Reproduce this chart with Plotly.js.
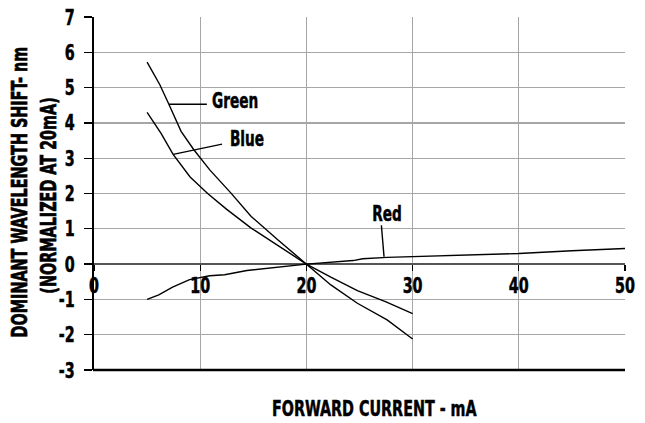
<!DOCTYPE html>
<html>
<head>
<meta charset="utf-8">
<script src="https://cdn.plot.ly/plotly-3.0.1.min.js"></script>
<style>html,body{margin:0;padding:0;background:#fff;}#chart{width:645px;height:423px;}</style>
</head>
<body>
<div id="chart"></div>
<script>
// Data
const greenX = [5, 6.2, 7.05, 8.2, 9.4, 10.9, 12.9, 14.8, 17.3, 20, 22.3, 24.8, 27.6, 30];
const greenY = [5.72, 5.08, 4.53, 3.76, 3.24, 2.67, 2.01, 1.35, 0.69, 0, -0.59, -1.11, -1.58, -2.12];
const blueX = [5, 6.3, 7.45, 9.05, 10.7, 12.5, 14.8, 17.3, 20, 22.3, 24.8, 27.5, 30];
const blueY = [4.3, 3.71, 3.11, 2.47, 2.0, 1.55, 1.02, 0.52, 0, -0.37, -0.75, -1.07, -1.4];
const redX = [5, 6.1, 7.4, 9, 10.9, 12.3, 14.4, 17.5, 20, 24.4, 25.3, 27.6, 30, 35, 40, 45, 50];
const redY = [-1.0, -0.87, -0.65, -0.44, -0.33, -0.3, -0.18, -0.07, 0, 0.1, 0.15, 0.19, 0.21, 0.27, 0.3, 0.38, 0.44];

const xTickVals = [0, 10, 20, 30, 40, 50];
const xTickText = ['0', '10', '20', '30', '40', '50'];
const yTickVals = [-3, -2, -1, 0, 1, 2, 3, 4, 5, 6, 7];
const yTickText = ['-3', '-2', '-1', '0', '1', '2', '3', '4', '5', '6', '7'];

const seriesLabels = ['Green', 'Blue', 'Red'];
const xTitle = 'FORWARD CURRENT - mA';
const yTitleLines = ['DOMINANT WAVELENGTH SHIFT- nm', '(NORMALIZED AT 20mA)'];

const FONT = '"DejaVu Sans Condensed", "Liberation Sans Narrow", "Arial Narrow", sans-serif';
const CONDENSE = 0.74;
const YTITLE_STRETCH = 1.36;

const lineStyle = {color: '#000', width: 1.4};
const traces = [
  {x: greenX, y: greenY, name: seriesLabels[0], mode: 'lines', line: lineStyle},
  {x: blueX, y: blueY, name: seriesLabels[1], mode: 'lines', line: lineStyle},
  {x: redX, y: redY, name: seriesLabels[2], mode: 'lines', line: lineStyle}
];

const leader = (x0, y0, x1, y1) => ({type: 'line', xref: 'x', yref: 'y', x0, y0, x1, y1, line: {color: '#000', width: 1.4}});
const f = (size) => ({family: FONT, size: size, weight: 'bold', color: '#000'});

const layout = {
  width: 645, height: 423,
  margin: {l: 94, r: 20, t: 17, b: 53},
  paper_bgcolor: '#fff', plot_bgcolor: '#fff',
  showlegend: false,
  font: f(21),
  xaxis: {
    range: [0, 50], tickvals: xTickVals, ticktext: xTickText,
    showgrid: true, gridcolor: '#a6a6a6', gridwidth: 1.3,
    anchor: 'free', position: 0.3,
    ticks: 'outside', ticklen: 6, tickcolor: '#000', tickwidth: 1.3,
    ticklabelstandoff: -4,
    showline: false, zeroline: false,
    tickfont: f(21.5),
    fixedrange: true
  },
  yaxis: {
    range: [-3, 7], tickvals: yTickVals, ticktext: yTickText,
    showgrid: true, gridcolor: '#a6a6a6', gridwidth: 1.3,
    zeroline: true, zerolinecolor: '#555', zerolinewidth: 1.3,
    showline: true, linecolor: '#000', linewidth: 2,
    ticks: 'outside', ticklen: 8, tickcolor: '#000', tickwidth: 1.3,
    ticklabelstandoff: 5,
    tickfont: f(21.5),
    fixedrange: true
  },
  shapes: [
    {type: 'line', xref: 'paper', yref: 'paper', x0: -0.002, x1: 1, y0: 0, y1: 0, line: {color: '#000', width: 2.5}},
    leader(7.06, 4.53, 10.63, 4.53),
    leader(7.46, 3.11, 12.06, 3.40),
    leader(27.06, 1.10, 27.31, 0.21)
  ],
  annotations: [
    {xref: 'x', yref: 'y', x: 13.31, y: 4.62, xanchor: 'center', yanchor: 'middle', showarrow: false, text: seriesLabels[0], font: f(20.5)},
    {xref: 'x', yref: 'y', x: 14.36, y: 3.53, xanchor: 'center', yanchor: 'middle', showarrow: false, text: seriesLabels[1], font: f(20.5)},
    {xref: 'x', yref: 'y', x: 27.57, y: 1.42, xanchor: 'center', yanchor: 'middle', showarrow: false, text: seriesLabels[2], font: f(20.5)},
    {xref: 'paper', yref: 'paper', x: 0.528, y: -0.108, xanchor: 'center', yanchor: 'middle', showarrow: false, text: xTitle, font: f(21.5)},
    {xref: 'paper', yref: 'paper', x: -0.141, y: 0.503, xanchor: 'center', yanchor: 'middle', textangle: -90, showarrow: false, text: yTitleLines[0], font: f(16)},
    {xref: 'paper', yref: 'paper', x: -0.085, y: 0.496, xanchor: 'center', yanchor: 'middle', textangle: -90, showarrow: false, text: yTitleLines[1], font: f(16)}
  ]
};

Plotly.newPlot('chart', traces, layout, {staticPlot: true, displayModeBar: false}).then(function () {
  document.querySelectorAll('#chart svg text').forEach(function (t) {
    const w = t.getComputedTextLength();
    if (!(w > 0)) return;
    t.style.stroke = '#000';
    t.style.strokeWidth = '0.5px';
    if (yTitleLines.indexOf(t.textContent) >= 0) {
      // taller glyphs at the same length, like the narrow face of the original
      const bb = t.getBBox();
      const cy = bb.y + bb.height / 2;
      const prev = t.getAttribute('transform') || '';
      t.setAttribute('transform', prev + ' translate(0,' + cy + ') scale(1,' + YTITLE_STRETCH + ') translate(0,' + (-cy) + ')');
    } else {
      // condense glyphs horizontally to mimic the narrow heavy face of the original
      t.setAttribute('textLength', (w * CONDENSE).toFixed(2));
      t.setAttribute('lengthAdjust', 'spacingAndGlyphs');
    }
  });
});
</script>
</body>
</html>
